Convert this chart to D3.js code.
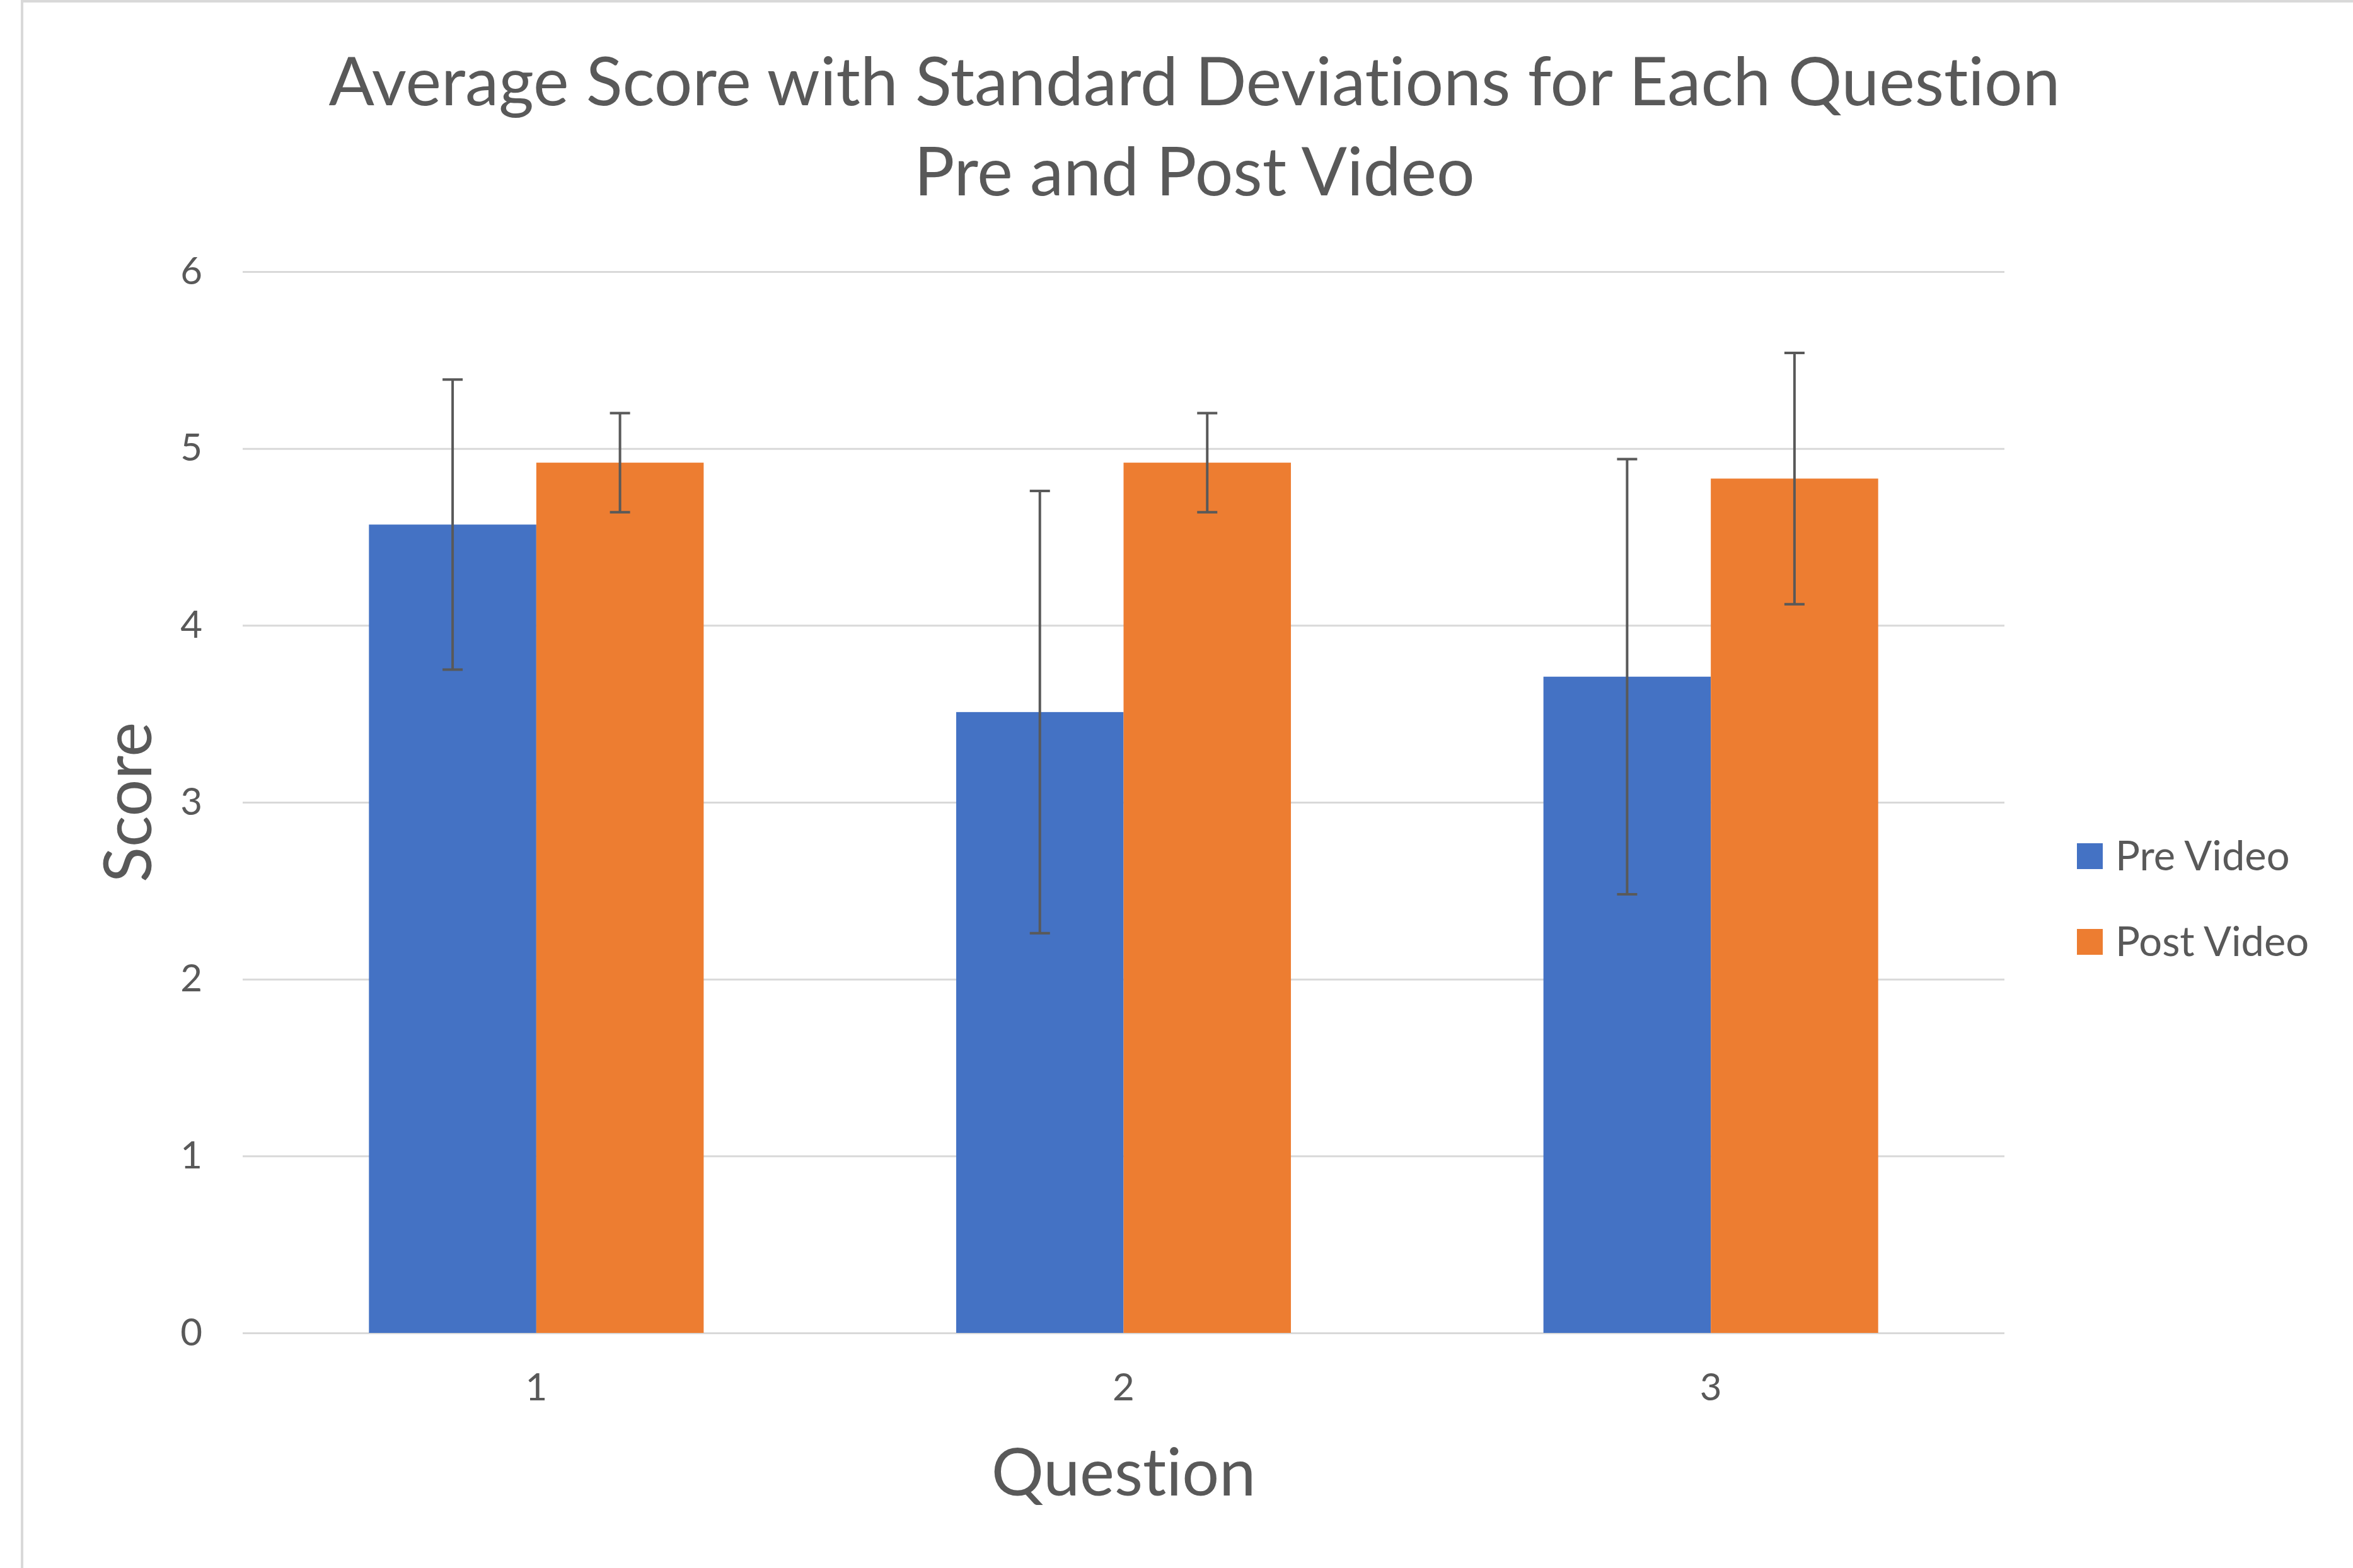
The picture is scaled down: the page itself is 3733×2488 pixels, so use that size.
<!DOCTYPE html>
<html>
<head>
<meta charset="utf-8">
<script src="https://cdn.jsdelivr.net/npm/d3@7"></script>
<style>
  body { margin: 0; background: #fff; }
  text { font-family: Lato, "Open Sans", sans-serif; fill: #595959; font-variant-ligatures: none; }
</style>
</head>
<body>
<svg width="3733" height="2488"></svg>
<script>

var questions = ["1", "2", "3"];
var seriesNames = ["Pre Video", "Post Video"];
var preMeans = [4.57, 3.51, 3.71];
var preSD = [0.82, 1.25, 1.23];
var postMeans = [4.92, 4.92, 4.83];
var postSD = [0.28, 0.28, 0.71];
var yTicks = [0, 1, 2, 3, 4, 5, 6];
var titleLines = ["Average Score with Standard Deviations for Each Question", "Pre and Post Video"];

var colors = ["#4472C4", "#ED7D31"];

var svg = d3.select("svg"),
    width = +svg.attr("width"),
    height = +svg.attr("height");

var margin = {left: 385, right: 3180, top: 431, bottom: 2115};

// chart frame (light grey border at top and left)
svg.append("rect")
    .attr("x", 0).attr("y", 0)
    .attr("width", width).attr("height", height)
    .attr("fill", "#fff");
svg.append("line")
    .attr("x1", 35).attr("x2", 35)
    .attr("y1", 0).attr("y2", height)
    .attr("stroke", "#d9d9d9").attr("stroke-width", 4);
svg.append("line")
    .attr("x1", 33).attr("x2", width)
    .attr("y1", 2).attr("y2", 2)
    .attr("stroke", "#d9d9d9").attr("stroke-width", 4);

var x0 = d3.scaleBand()
    .domain(questions)
    .range([margin.left, margin.right])
    .paddingInner(0.43)
    .paddingOuter(0.215);

var x1 = d3.scaleBand()
    .domain(seriesNames)
    .range([0, x0.bandwidth()]);

var y = d3.scaleLinear()
    .domain([0, 6])
    .range([margin.bottom, margin.top]);

var yAxis = svg.append("g")
    .attr("transform", "translate(" + margin.left + ",0)")
    .call(d3.axisLeft(y)
        .tickValues(yTicks)
        .tickSize(-(margin.right - margin.left))
        .tickPadding(64)
        .tickFormat(d3.format("d")));

yAxis.select(".domain").remove();
yAxis.selectAll(".tick line")
    .attr("stroke", "#d9d9d9")
    .attr("stroke-width", 3);
yAxis.selectAll(".tick text")
    .attr("font-size", 60)
    .attr("dy", null)
    .attr("y", 19)
    .style("fill", "#595959");

var xAxis = svg.append("g")
    .attr("transform", "translate(0," + margin.bottom + ")")
    .call(d3.axisBottom(x0).tickSize(0).tickPadding(0));

xAxis.select(".domain").remove();
xAxis.selectAll(".tick text")
    .attr("font-size", 60)
    .attr("dy", null)
    .attr("y", 107)
    .style("fill", "#595959");

var rows = questions.map(function (q, i) {
    return {
        q: q,
        vals: [
            {name: seriesNames[0], mean: preMeans[i], sd: preSD[i]},
            {name: seriesNames[1], mean: postMeans[i], sd: postSD[i]}
        ]
    };
});

var groups = svg.selectAll(".group")
    .data(rows)
    .enter()
    .append("g")
    .attr("class", "group")
    .attr("transform", function (d) { return "translate(" + x0(d.q) + ",0)"; });

groups.selectAll("rect")
    .data(function (d) { return d.vals; })
    .enter()
    .append("rect")
    .attr("x", function (d) { return x1(d.name); })
    .attr("y", function (d) { return y(d.mean); })
    .attr("width", x1.bandwidth())
    .attr("height", function (d) { return y(0) - y(d.mean); })
    .attr("fill", function (d, i) { return colors[i]; });

var capW = 16;

var err = groups.selectAll(".err")
    .data(function (d) { return d.vals; })
    .enter()
    .append("g")
    .attr("class", "err")
    .attr("stroke", "#595959")
    .attr("stroke-width", 4);

err.append("line")
    .attr("x1", function (d) { return x1(d.name) + x1.bandwidth() / 2; })
    .attr("x2", function (d) { return x1(d.name) + x1.bandwidth() / 2; })
    .attr("y1", function (d) { return y(d.mean + d.sd); })
    .attr("y2", function (d) { return y(d.mean - d.sd); });

err.append("line")
    .attr("x1", function (d) { return x1(d.name) + x1.bandwidth() / 2 - capW; })
    .attr("x2", function (d) { return x1(d.name) + x1.bandwidth() / 2 + capW; })
    .attr("y1", function (d) { return y(d.mean + d.sd); })
    .attr("y2", function (d) { return y(d.mean + d.sd); });

err.append("line")
    .attr("x1", function (d) { return x1(d.name) + x1.bandwidth() / 2 - capW; })
    .attr("x2", function (d) { return x1(d.name) + x1.bandwidth() / 2 + capW; })
    .attr("y1", function (d) { return y(d.mean - d.sd); })
    .attr("y2", function (d) { return y(d.mean - d.sd); });

// titles
svg.selectAll(".title")
    .data(titleLines)
    .enter()
    .append("text")
    .attr("class", "title")
    .attr("x", 1895)
    .attr("y", function (d, i) { return 167 + i * 143; })
    .attr("text-anchor", "middle")
    .attr("font-size", 107)
    .text(function (d) { return d; });

svg.append("text")
    .attr("x", (margin.left + margin.right) / 2)
    .attr("y", 2373)
    .attr("text-anchor", "middle")
    .attr("font-size", 104)
    .text("Question");

svg.append("text")
    .attr("transform", "translate(240," + (margin.top + margin.bottom) / 2 + ") rotate(-90)")
    .attr("text-anchor", "middle")
    .attr("font-size", 104)
    .text("Score");

// legend
var legend = svg.selectAll(".legend")
    .data(seriesNames)
    .enter()
    .append("g")
    .attr("class", "legend")
    .attr("transform", function (d, i) { return "translate(3295," + (1338 + i * 136) + ")"; });

legend.append("rect")
    .attr("width", 41)
    .attr("height", 41)
    .attr("fill", function (d, i) { return colors[i]; });

legend.append("text")
    .attr("x", 61)
    .attr("y", 43)
    .attr("font-size", 65)
    .text(function (d) { return d; });

</script>
</body>
</html>
